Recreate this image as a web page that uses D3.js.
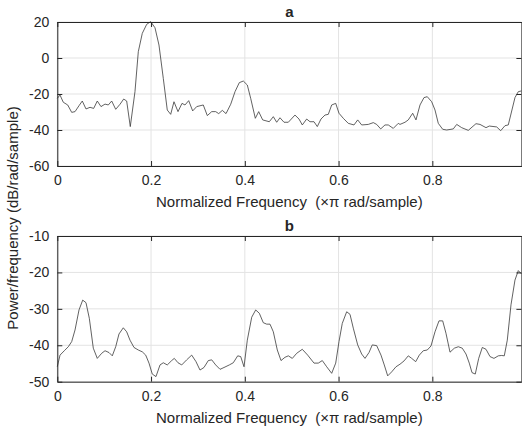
<!DOCTYPE html>
<html><head><meta charset="utf-8">
<script src="https://cdn.jsdelivr.net/npm/d3@7"></script>
<style>
body{margin:0;background:#fff;}
svg text{font-family:"Liberation Sans",Arial,Helvetica,sans-serif;fill:#262626;white-space:pre;}
</style></head>
<body><svg id="c" width="522" height="428"></svg>
<script>
const xTicks=[0,0.2,0.4,0.6,0.8];
const xTickLabels=["0","0.2","0.4","0.6","0.8"];
const yTicksA=[20,0,-20,-40,-60];
const yTicksB=[-10,-20,-30,-40,-50];
const titles=["a","b"];
const xLabel="Normalized Frequency  (\u00d7\u03c0 rad/sample)";
const yLabel="Power/frequency (dB/rad/sample)";

const freqA=[0,0.0058,0.0128,0.0222,0.0307,0.0378,0.0463,0.0533,0.0612,0.0698,0.0776,0.0853,0.0932,0.1018,0.1088,0.1160,0.1246,0.1338,0.1416,0.1480,0.1557,0.1657,0.1728,0.1813,0.1907,0.1992,0.2084,0.2169,0.2261,0.2346,0.2419,0.2489,0.2575,0.2660,0.2724,0.2803,0.2888,0.2974,0.3114,0.3200,0.3294,0.3379,0.3443,0.3520,0.3599,0.3699,0.3791,0.3882,0.3968,0.4053,0.4125,0.4224,0.4296,0.4381,0.4522,0.4608,0.4680,0.4750,0.4836,0.4928,0.5070,0.5156,0.5226,0.5320,0.5390,0.5476,0.5546,0.5625,0.5710,0.5781,0.5853,0.5939,0.6009,0.6101,0.6207,0.6329,0.6408,0.6493,0.6634,0.6741,0.6813,0.6899,0.6990,0.7061,0.7167,0.7274,0.7310,0.7417,0.7487,0.7581,0.7651,0.7737,0.7822,0.7892,0.7986,0.8057,0.8127,0.8221,0.8306,0.8447,0.8520,0.8626,0.8767,0.8931,0.9017,0.9145,0.9215,0.9373,0.9458,0.9550,0.9620,0.9672,0.9763,0.9834,0.99];
const psdA=[-22.4,-20.6,-24.6,-26.1,-30.2,-29.8,-26.5,-23.9,-28.3,-27.4,-28,-23.9,-27,-25.6,-26.1,-23.9,-28.5,-25.7,-22.8,-23.9,-38.1,-18.7,3.5,13.7,18.7,20.2,16.8,7.2,-11.3,-28.9,-31.3,-24.3,-29.8,-25.2,-26.1,-23.7,-29.4,-27,-26.1,-32,-29.8,-29.8,-30.9,-29.1,-30.9,-25.7,-18.7,-13.7,-12.8,-15,-22.4,-33.5,-29.8,-34.4,-35.4,-32.6,-35.7,-33.2,-35.7,-35.7,-31.7,-33.9,-37.2,-33.9,-35.4,-35.4,-38.1,-33.9,-31.7,-31.3,-26.1,-25.2,-30.7,-33.5,-36.3,-37.2,-34.4,-37.2,-36.9,-35.9,-36.9,-39.4,-37.2,-37.2,-39.1,-36.3,-36.9,-35.7,-34.4,-30.7,-34.4,-26.1,-22.0,-21.5,-24.3,-28.9,-36.3,-39.6,-40,-39.4,-36.9,-38.7,-40.2,-36.5,-36.9,-38.7,-37.8,-38.3,-40.4,-37.6,-37.2,-31.7,-22,-18.7,-18.3];

const freqB=[0,0.0058,0.0149,0.0235,0.0307,0.0378,0.0463,0.0542,0.0612,0.0683,0.0768,0.0853,0.0947,0.1018,0.1103,0.1173,0.1246,0.1316,0.1408,0.1480,0.1551,0.1636,0.1728,0.1813,0.1886,0.1956,0.2026,0.2105,0.2191,0.2261,0.2346,0.2440,0.2496,0.2575,0.2654,0.2760,0.2867,0.2959,0.3044,0.3129,0.3221,0.3294,0.3379,0.3471,0.3556,0.3669,0.3754,0.3848,0.3912,0.3983,0.4053,0.4147,0.4232,0.4309,0.4394,0.4467,0.4537,0.4608,0.4693,0.4772,0.4857,0.4928,0.5013,0.5107,0.5226,0.5341,0.5476,0.5567,0.5653,0.5747,0.5853,0.5939,0.6009,0.6079,0.6173,0.6244,0.6314,0.6408,0.6493,0.6564,0.6649,0.6719,0.6813,0.6905,0.6975,0.7048,0.7133,0.7225,0.7310,0.7396,0.7487,0.7560,0.7645,0.7722,0.7807,0.7892,0.7971,0.8057,0.8142,0.8221,0.8291,0.8377,0.8469,0.8554,0.8639,0.8718,0.8788,0.8846,0.8916,0.8989,0.9066,0.9145,0.9230,0.9315,0.9407,0.9480,0.9535,0.9599,0.9678,0.9763,0.9834,0.99];
const psdB=[-45.9,-42.7,-41.5,-40.4,-39,-35.8,-30.3,-27.6,-28.3,-32.6,-40.8,-43.6,-42.2,-41.5,-42,-42.9,-40.4,-36.9,-35.2,-36.3,-38.6,-40.6,-41.3,-41.8,-42.7,-44.9,-47.9,-48.6,-45.4,-44.8,-45.4,-44.2,-43.6,-44.8,-45.4,-44,-42.7,-44.5,-46.8,-46.1,-44.2,-44,-45.4,-46.6,-46.1,-45.4,-44.8,-42.9,-43.1,-45.9,-38.6,-32.3,-30.3,-31.2,-33.8,-34.2,-34.2,-36.3,-41.3,-44.2,-43.3,-42.9,-43.6,-42.2,-41.1,-42.7,-44.9,-44.9,-44.2,-45.9,-47.7,-44.9,-39,-34,-30.8,-31.5,-35.3,-39.9,-42.4,-43.6,-42,-39.9,-40.1,-42.7,-45.4,-48.4,-47.3,-45.9,-45.2,-44.3,-42.9,-43.6,-44.5,-42.7,-41.5,-41.3,-40.2,-36.3,-33.3,-33.3,-36.7,-41.9,-40.8,-40.4,-40.8,-42.4,-44.9,-47.5,-47.9,-43.6,-40.6,-41.1,-43.1,-43.6,-42.9,-42.8,-42.9,-38.6,-28.9,-22.1,-19.5,-20.4];

const svg=d3.select("#c");
const L=57.3,R=521.4;
const panels=[
 {top:22,bottom:166,ydom:[-60,20],yt:yTicksA,f:freqA,v:psdA,title:titles[0]},
 {top:236,bottom:381.7,ydom:[-50,-10],yt:yTicksB,f:freqB,v:psdB,title:titles[1]}
];
const axisCol="#262626", gridCol="#e3e3e3";
panels.forEach(p=>{
  const x=d3.scaleLinear().domain([0,0.99]).range([L,R]);
  const y=d3.scaleLinear().domain(p.ydom).range([p.bottom,p.top]);
  const g=svg.append("g");
  g.selectAll(".gx").data(xTicks).join("line")
   .attr("x1",d=>x(d)).attr("x2",d=>x(d)).attr("y1",p.top).attr("y2",p.bottom)
   .attr("stroke",gridCol).attr("stroke-width",1);
  g.selectAll(".gy").data(p.yt).join("line")
   .attr("y1",d=>y(d)).attr("y2",d=>y(d)).attr("x1",L).attr("x2",R)
   .attr("stroke",gridCol).attr("stroke-width",1);
  const line=d3.line().x((d,i)=>x(p.f[i])).y(d=>y(d));
  g.append("path").datum(p.v).attr("d",line).attr("fill","none")
   .attr("stroke","#3a3a3a").attr("stroke-width",0.8);
  const xb=d3.axisBottom(x).tickValues(xTicks).tickFormat((d,i)=>xTickLabels[i]).tickSizeInner(-5).tickSizeOuter(0).tickPadding(9);
  const xt=d3.axisTop(x).tickValues(xTicks).tickFormat("").tickSizeInner(-5).tickSizeOuter(0);
  const yl=d3.axisLeft(y).tickValues(p.yt).tickFormat(d=>String(d)).tickSizeInner(-5).tickSizeOuter(0).tickPadding(8);
  const yr=d3.axisRight(y).tickValues(p.yt).tickFormat("").tickSizeInner(-5).tickSizeOuter(0);
  [[xb,`translate(0,${p.bottom})`],[xt,`translate(0,${p.top})`],[yl,`translate(${L},0)`],[yr,`translate(${R},0)`]].forEach(([ax,tr])=>{
    const a=g.append("g").attr("transform",tr).call(ax);
    a.selectAll("path,line").attr("stroke",axisCol).attr("stroke-width",1);
    a.selectAll("text").attr("font-size",14).attr("fill",axisCol).style("font-family","'Liberation Sans',Arial,sans-serif");
  });
  g.append("text").attr("x",(L+R)/2).attr("y",p.top-5).attr("text-anchor","middle")
   .attr("font-size",15).attr("font-weight","bold").attr("fill","#000").text(p.title);
  g.append("text").attr("x",(L+R)/2).attr("y",p.bottom+41).attr("text-anchor","middle")
   .attr("font-size",15).attr("xml:space","preserve").text(xLabel);
});
svg.append("text").attr("transform","translate(18,218) rotate(-90)").attr("text-anchor","middle")
 .attr("font-size",15).text(yLabel);
</script></body></html>
